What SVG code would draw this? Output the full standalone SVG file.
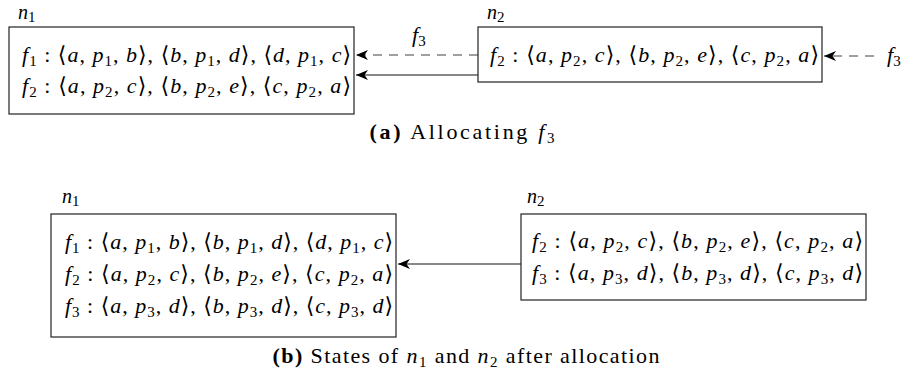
<svg xmlns="http://www.w3.org/2000/svg" width="913" height="379" viewBox="0 0 913 379">
<style>
.m { font-family: "Liberation Serif", "DejaVu Serif", serif; font-size: 22px; fill: #000; }
.lbl { font-size: 20px; }
.i { font-style: italic; }
.s { font-size: 15px; font-style: normal; }
.box { fill: #fff; stroke: #222; stroke-width: 1.2; }
.solid { stroke: #111; stroke-width: 1.2; fill: none; }
.dash { stroke: #808080; stroke-width: 1.4; stroke-dasharray: 9 7; fill: none; }
.b { font-weight: bold; }
</style>
<defs>
<marker id="ah" viewBox="0 0 12 10" refX="12" refY="5" markerWidth="12" markerHeight="10" markerUnits="userSpaceOnUse" orient="auto">
<path d="M0,0 L12,5 L0,10 L3.5,5 Z" fill="#000"/>
</marker>
</defs>

<g id="connectors">
<line class="dash" x1="478" y1="55" x2="356" y2="55" marker-end="url(#ah)"/>
<line class="solid" x1="478" y1="75" x2="356" y2="75" marker-end="url(#ah)"/>
<line class="dash" x1="874" y1="56" x2="824" y2="56" marker-end="url(#ah)"/>
<line class="solid" x1="521" y1="264" x2="398" y2="264" marker-end="url(#ah)"/>
<text class="m" x="412" y="42"><tspan class="i">f</tspan><tspan class="s" dy="4">3</tspan></text>
<text class="m" x="887" y="62"><tspan class="i">f</tspan><tspan class="s" dy="4">3</tspan></text>
</g>

<g id="top-n1">
<rect class="box" x="9" y="27" width="345" height="87"/>
<text class="m lbl" x="18" y="19"><tspan class="i">n</tspan><tspan class="s" dy="3">1</tspan></text>
<text class="m" x="22" y="62" textLength="329" lengthAdjust="spacing"><tspan class="i">f</tspan><tspan class="s" dy="4">1</tspan><tspan dy="-4"> : ⟨</tspan><tspan class="i">a</tspan>, <tspan class="i">p</tspan><tspan class="s" dy="4">1</tspan><tspan dy="-4">, </tspan><tspan class="i">b</tspan>⟩, ⟨<tspan class="i">b</tspan>, <tspan class="i">p</tspan><tspan class="s" dy="4">1</tspan><tspan dy="-4">, </tspan><tspan class="i">d</tspan>⟩, ⟨<tspan class="i">d</tspan>, <tspan class="i">p</tspan><tspan class="s" dy="4">1</tspan><tspan dy="-4">, </tspan><tspan class="i">c</tspan>⟩</text>
<text class="m" x="22" y="93" textLength="329" lengthAdjust="spacing"><tspan class="i">f</tspan><tspan class="s" dy="4">2</tspan><tspan dy="-4"> : ⟨</tspan><tspan class="i">a</tspan>, <tspan class="i">p</tspan><tspan class="s" dy="4">2</tspan><tspan dy="-4">, </tspan><tspan class="i">c</tspan>⟩, ⟨<tspan class="i">b</tspan>, <tspan class="i">p</tspan><tspan class="s" dy="4">2</tspan><tspan dy="-4">, </tspan><tspan class="i">e</tspan>⟩, ⟨<tspan class="i">c</tspan>, <tspan class="i">p</tspan><tspan class="s" dy="4">2</tspan><tspan dy="-4">, </tspan><tspan class="i">a</tspan>⟩</text>
</g>

<g id="top-n2">
<rect class="box" x="478" y="27" width="344" height="55"/>
<text class="m lbl" x="487" y="19"><tspan class="i">n</tspan><tspan class="s" dy="3">2</tspan></text>
<text class="m" x="490" y="62" textLength="329" lengthAdjust="spacing"><tspan class="i">f</tspan><tspan class="s" dy="4">2</tspan><tspan dy="-4"> : ⟨</tspan><tspan class="i">a</tspan>, <tspan class="i">p</tspan><tspan class="s" dy="4">2</tspan><tspan dy="-4">, </tspan><tspan class="i">c</tspan>⟩, ⟨<tspan class="i">b</tspan>, <tspan class="i">p</tspan><tspan class="s" dy="4">2</tspan><tspan dy="-4">, </tspan><tspan class="i">e</tspan>⟩, ⟨<tspan class="i">c</tspan>, <tspan class="i">p</tspan><tspan class="s" dy="4">2</tspan><tspan dy="-4">, </tspan><tspan class="i">a</tspan>⟩</text>
</g>

<text class="m" x="462" y="139" text-anchor="middle" textLength="185" lengthAdjust="spacing"><tspan class="b">(a)</tspan> Allocating <tspan class="i">f</tspan><tspan class="s" dy="4">3</tspan></text>

<g id="bottom-n1">
<rect class="box" x="51" y="214" width="345" height="123"/>
<text class="m lbl" x="62" y="203"><tspan class="i">n</tspan><tspan class="s" dy="3">1</tspan></text>
<text class="m" x="65" y="249" textLength="328" lengthAdjust="spacing"><tspan class="i">f</tspan><tspan class="s" dy="4">1</tspan><tspan dy="-4"> : ⟨</tspan><tspan class="i">a</tspan>, <tspan class="i">p</tspan><tspan class="s" dy="4">1</tspan><tspan dy="-4">, </tspan><tspan class="i">b</tspan>⟩, ⟨<tspan class="i">b</tspan>, <tspan class="i">p</tspan><tspan class="s" dy="4">1</tspan><tspan dy="-4">, </tspan><tspan class="i">d</tspan>⟩, ⟨<tspan class="i">d</tspan>, <tspan class="i">p</tspan><tspan class="s" dy="4">1</tspan><tspan dy="-4">, </tspan><tspan class="i">c</tspan>⟩</text>
<text class="m" x="65" y="281" textLength="328" lengthAdjust="spacing"><tspan class="i">f</tspan><tspan class="s" dy="4">2</tspan><tspan dy="-4"> : ⟨</tspan><tspan class="i">a</tspan>, <tspan class="i">p</tspan><tspan class="s" dy="4">2</tspan><tspan dy="-4">, </tspan><tspan class="i">c</tspan>⟩, ⟨<tspan class="i">b</tspan>, <tspan class="i">p</tspan><tspan class="s" dy="4">2</tspan><tspan dy="-4">, </tspan><tspan class="i">e</tspan>⟩, ⟨<tspan class="i">c</tspan>, <tspan class="i">p</tspan><tspan class="s" dy="4">2</tspan><tspan dy="-4">, </tspan><tspan class="i">a</tspan>⟩</text>
<text class="m" x="65" y="313" textLength="328" lengthAdjust="spacing"><tspan class="i">f</tspan><tspan class="s" dy="4">3</tspan><tspan dy="-4"> : ⟨</tspan><tspan class="i">a</tspan>, <tspan class="i">p</tspan><tspan class="s" dy="4">3</tspan><tspan dy="-4">, </tspan><tspan class="i">d</tspan>⟩, ⟨<tspan class="i">b</tspan>, <tspan class="i">p</tspan><tspan class="s" dy="4">3</tspan><tspan dy="-4">, </tspan><tspan class="i">d</tspan>⟩, ⟨<tspan class="i">c</tspan>, <tspan class="i">p</tspan><tspan class="s" dy="4">3</tspan><tspan dy="-4">, </tspan><tspan class="i">d</tspan>⟩</text>
</g>

<g id="bottom-n2">
<rect class="box" x="521" y="214" width="345" height="86"/>
<text class="m lbl" x="527" y="203"><tspan class="i">n</tspan><tspan class="s" dy="3">2</tspan></text>
<text class="m" x="532" y="248" textLength="331" lengthAdjust="spacing"><tspan class="i">f</tspan><tspan class="s" dy="4">2</tspan><tspan dy="-4"> : ⟨</tspan><tspan class="i">a</tspan>, <tspan class="i">p</tspan><tspan class="s" dy="4">2</tspan><tspan dy="-4">, </tspan><tspan class="i">c</tspan>⟩, ⟨<tspan class="i">b</tspan>, <tspan class="i">p</tspan><tspan class="s" dy="4">2</tspan><tspan dy="-4">, </tspan><tspan class="i">e</tspan>⟩, ⟨<tspan class="i">c</tspan>, <tspan class="i">p</tspan><tspan class="s" dy="4">2</tspan><tspan dy="-4">, </tspan><tspan class="i">a</tspan>⟩</text>
<text class="m" x="532" y="280" textLength="331" lengthAdjust="spacing"><tspan class="i">f</tspan><tspan class="s" dy="4">3</tspan><tspan dy="-4"> : ⟨</tspan><tspan class="i">a</tspan>, <tspan class="i">p</tspan><tspan class="s" dy="4">3</tspan><tspan dy="-4">, </tspan><tspan class="i">d</tspan>⟩, ⟨<tspan class="i">b</tspan>, <tspan class="i">p</tspan><tspan class="s" dy="4">3</tspan><tspan dy="-4">, </tspan><tspan class="i">d</tspan>⟩, ⟨<tspan class="i">c</tspan>, <tspan class="i">p</tspan><tspan class="s" dy="4">3</tspan><tspan dy="-4">, </tspan><tspan class="i">d</tspan>⟩</text>
</g>

<text class="m" x="466" y="363" text-anchor="middle" textLength="387" lengthAdjust="spacing"><tspan class="b">(b)</tspan> States of <tspan class="i">n</tspan><tspan class="s" dy="4">1</tspan><tspan dy="-4"> and </tspan><tspan class="i">n</tspan><tspan class="s" dy="4">2</tspan><tspan dy="-4"> after allocation</tspan></text>
</svg>
